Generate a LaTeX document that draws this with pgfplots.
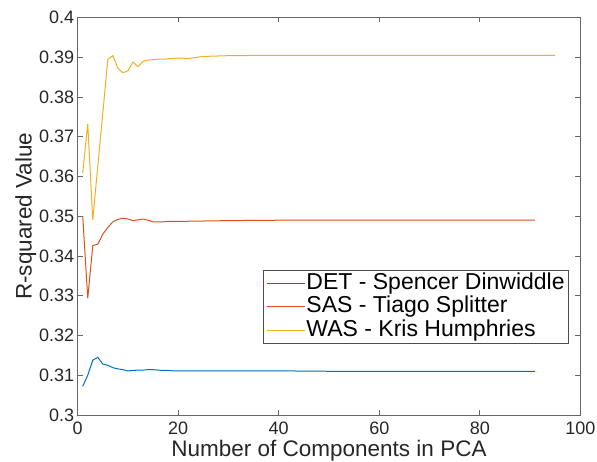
\documentclass[border=0pt]{standalone}
\usepackage{fontspec}
\setmainfont{Liberation Sans}
\usepackage{pgfplots}
\pgfplotsset{compat=1.18}
\usetikzlibrary{calc}

\definecolor{mblue}{rgb}{0,0.447,0.741}
\definecolor{mred}{rgb}{0.85,0.325,0.098}
\definecolor{myellow}{rgb}{0.929,0.694,0.125}
\definecolor{axgray}{rgb}{0.15,0.15,0.15}

\begin{document}
\begin{tikzpicture}
\begin{axis}[
  name=ax,
  scale only axis,
  width=502.6pt, height=397.5pt,
  xmin=0, xmax=100, ymin=0.3, ymax=0.4,
  xtick={0,20,40,60,80,100},
  ytick={0.3,0.31,0.32,0.33,0.34,0.35,0.36,0.37,0.38,0.39,0.4},
  yticklabels={0.3,0.31,0.32,0.33,0.34,0.35,0.36,0.37,0.38,0.39,0.4},
  /pgf/number format/assume math mode=true,
  tick align=inside,
  major tick length=5pt,
  axis line style={black!60, line width=0.7pt},
  every tick/.style={black!60, line width=0.7pt},
  tick label style={font=\fontsize{18}{18}\selectfont, text=axgray},
  xticklabel style={anchor=base, yshift=-20pt},
  label style={font=\fontsize{22.5}{22.5}\selectfont, text=axgray},
  xlabel={Number of Components in PCA},
  ylabel={R-squared Value},
  xlabel style={at={(axis description cs:0.5,-0.1049)}, anchor=base},
  ylabel style={at={(axis description cs:-0.0915,0.5)}, anchor=base},
  legend style={at={(rel axis cs:0.9775,0.1786)}, anchor=south east,
    draw=black!70, line width=0.6pt, inner xsep=3pt, inner ysep=1.5pt,
    font=\fontsize{23}{23}\selectfont, text=black,
    nodes={inner sep=1pt, text height=16.5pt, text depth=5pt}},
  legend cell align=left,
  legend image code/.code={\draw[#1] (0pt,0pt) -- (38pt,0pt);},
  every axis plot/.append style={line width=1pt},
]
\addplot[mblue] coordinates {
(1,0.3072) (2,0.3100) (3,0.3138) (4,0.3145) (5,0.3128) (6,0.3125) (7,0.3119)
(8,0.3116) (9,0.3114) (10,0.3111) (11,0.3112) (12,0.3113) (13,0.3113) (14,0.3114)
(15,0.3114) (16,0.3113) (17,0.3112) (18,0.3112) (19,0.3111) (20,0.3111) (25,0.3111)
(30,0.3111) (40,0.3111) (50,0.3110) (60,0.3110) (70,0.3110) (80,0.3110) (91,0.3110)
};
\addlegendentry{DET - Spencer Dinwiddle}
\addplot[mred] coordinates {
(1,0.3500) (2,0.3294) (3,0.3426) (4,0.3430) (5,0.3455) (6,0.3472) (7,0.3486)
(8,0.3492) (9,0.3495) (10,0.3493) (11,0.3489) (12,0.3491) (13,0.3493) (14,0.3490)
(15,0.3486) (16,0.3486) (17,0.3486) (18,0.3487) (19,0.3487) (20,0.3487) (25,0.3488)
(30,0.3489) (40,0.3490) (50,0.3490) (60,0.3490) (70,0.3490) (80,0.3490) (91,0.3490)
};
\addlegendentry{SAS - Tiago Splitter}
\addplot[myellow] coordinates {
(1,0.3609) (2,0.3732) (3,0.3491) (4,0.3626) (5,0.3760) (6,0.3895) (7,0.3904)
(8,0.3872) (9,0.3861) (10,0.3866) (11,0.3888) (12,0.3876) (13,0.3890) (14,0.3893)
(15,0.3894) (16,0.3895) (17,0.3895) (18,0.3896) (19,0.3897) (20,0.3898) (22,0.3897)
(25,0.3902) (30,0.3904) (40,0.3905) (50,0.3905) (60,0.3905) (70,0.3905) (80,0.3905)
(95,0.3905)
};
\addlegendentry{WAS - Kris Humphries}
\end{axis}
\pgfresetboundingbox
\path[use as bounding box] ($(ax.south west)+(-77.7pt,-47pt)$) rectangle ($(ax.north east)+(16.7pt,17.5pt)$);
\end{tikzpicture}
\end{document}
